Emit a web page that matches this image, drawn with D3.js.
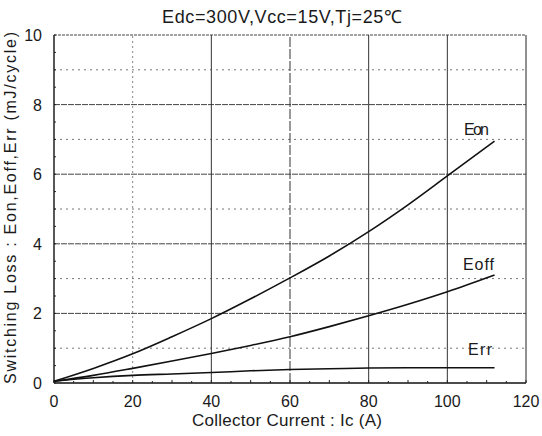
<!DOCTYPE html>
<html>
<head>
<meta charset="utf-8">
<script src="https://cdn.jsdelivr.net/npm/d3@7"></script>
<style>
  body { margin: 0; background: #fff; }
  text { font-family: "Liberation Sans", Arial, sans-serif; fill: #1a1a1a; }
</style>
</head>
<body>
<svg id="chart" width="542" height="436"></svg>
<script>
// collector current (A) and losses (mJ/cycle)
var current = [0, 10, 20, 30, 40, 50, 60, 70, 80, 90, 100, 112];
var eon  = [0.05, 0.42, 0.84, 1.33, 1.85, 2.42, 3.02, 3.65, 4.35, 5.12, 5.95, 6.95];
var eoff = [0.05, 0.22, 0.42, 0.63, 0.85, 1.08, 1.33, 1.62, 1.93, 2.26, 2.62, 3.1];
var err  = [0.05, 0.15, 0.22, 0.26, 0.3, 0.35, 0.39, 0.41, 0.43, 0.44, 0.44, 0.44];
var xTicks = [0, 20, 40, 60, 80, 100, 120];
var yTicks = [0, 2, 4, 6, 8, 10];
var series = [
    { name: 'Eon', values: eon },
    { name: 'Eoff', values: eoff },
    { name: 'Err', values: err }
];

var margin = { left: 54, right: 16, top: 35, bottom: 53 };
var W = 542, H = 436;
var svg = d3.select('#chart');

var xs = d3.scaleLinear().domain([0, 120]).range([margin.left, W - margin.right]);
var ys = d3.scaleLinear().domain([0, 10]).range([H - margin.bottom, margin.top]);

var g = svg.append('g');

// horizontal grid: dense dashes on even values, dotted on odd
d3.range(1, 11).forEach(function (v) {
    g.append('line')
        .attr('x1', xs(0)).attr('x2', xs(120))
        .attr('y1', ys(v)).attr('y2', ys(v))
        .attr('stroke', v % 2 ? '#777' : '#444')
        .attr('stroke-width', 1)
        .attr('stroke-dasharray', v % 2 ? '2,4' : (v === 10 ? '3,1' : '6,1'));
});

// vertical grid
xTicks.slice(1, -1).forEach(function (v) {
    g.append('line')
        .attr('x1', xs(v)).attr('x2', xs(v))
        .attr('y1', ys(0)).attr('y2', ys(10))
        .attr('stroke', v === 20 ? '#888' : '#333')
        .attr('stroke-width', 1)
        .attr('stroke-dasharray', v === 20 ? '2,3' : (v === 60 ? '10,2' : null));
});

// frame
g.append('line').attr('x1', xs(0)).attr('x2', xs(0)).attr('y1', ys(0)).attr('y2', ys(10))
    .attr('stroke', '#111').attr('stroke-width', 1.4);
g.append('line').attr('x1', xs(120)).attr('x2', xs(120)).attr('y1', ys(0)).attr('y2', ys(10))
    .attr('stroke', '#222').attr('stroke-width', 1);
g.append('line').attr('x1', xs(0)).attr('x2', xs(120)).attr('y1', ys(0)).attr('y2', ys(0))
    .attr('stroke', '#111').attr('stroke-width', 1.6);

// small inward ticks
d3.range(0, 121, 5).forEach(function (v) {
    g.append('line').attr('x1', xs(v)).attr('x2', xs(v))
        .attr('y1', ys(0)).attr('y2', ys(0) - (v % 10 ? 2 : 3))
        .attr('stroke', '#222');
});
d3.range(0, 10.01, 0.5).forEach(function (v) {
    g.append('line').attr('x1', xs(0)).attr('x2', xs(0) + 2)
        .attr('y1', ys(v)).attr('y2', ys(v))
        .attr('stroke', '#222');
});

// curves
var line = d3.line()
    .x(function (d, i) { return xs(current[i]); })
    .y(function (d) { return ys(d); })
    .curve(d3.curveMonotoneX);

series.forEach(function (s) {
    g.append('path')
        .attr('d', line(s.values))
        .attr('fill', 'none')
        .attr('stroke', '#111')
        .attr('stroke-width', 1.6);
});

// curve labels
g.append('text').attr('x', 464).attr('y', 135).attr('font-size', 16)
    .attr('textLength', 25).text('Eon');
g.append('text').attr('x', 463).attr('y', 270).attr('font-size', 16)
    .attr('textLength', 31).text('Eoff');
g.append('text').attr('x', 468).attr('y', 355).attr('font-size', 16)
    .attr('textLength', 24).text('Err');

// tick labels
xTicks.forEach(function (v) {
    svg.append('text')
        .attr('x', xs(v)).attr('y', ys(0) + 24)
        .attr('text-anchor', 'middle')
        .attr('font-size', 16)
        .text(v);
});
yTicks.forEach(function (v) {
    svg.append('text')
        .attr('x', xs(0) - 12).attr('y', ys(v) + 6)
        .attr('text-anchor', 'end')
        .attr('font-size', 16)
        .text(v);
});

// titles
svg.append('text')
    .attr('x', 282).attr('y', 23)
    .attr('text-anchor', 'middle')
    .attr('font-size', 18)
    .attr('textLength', 240)
    .text('Edc=300V,Vcc=15V,Tj=25\u2103');

svg.append('text')
    .attr('x', 287).attr('y', 426)
    .attr('text-anchor', 'middle')
    .attr('font-size', 17)
    .attr('textLength', 190)
    .text('Collector Current : Ic (A)');

svg.append('text')
    .attr('transform', 'translate(16,' + 208 + ') rotate(-90)')
    .attr('text-anchor', 'middle')
    .attr('font-size', 16)
    .attr('textLength', 352)
    .text('Switching Loss : Eon,Eoff,Err (mJ/cycle)');
</script>
</body>
</html>
